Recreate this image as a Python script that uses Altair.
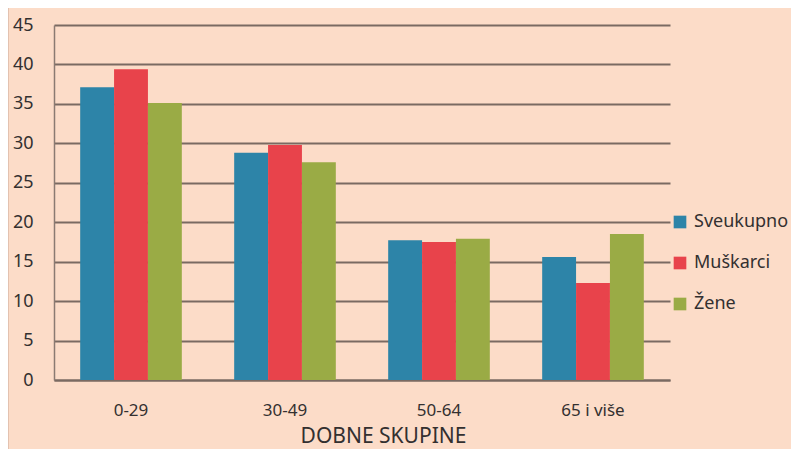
import altair as alt
import pandas as pd

groups = ["0-29", "30-49", "50-64", "65 i više"]
series = ["Sveukupno", "Muškarci", "Žene"]
sveukupno = [37.1, 28.8, 17.7, 15.6]
muskarci = [39.4, 29.8, 17.5, 12.3]
zene = [35.1, 27.6, 17.9, 18.5]
colors = ["#2d84a8", "#e8434b", "#9aab45"]

rows = []
for s, vals in zip(series, [sveukupno, muskarci, zene]):
    for g, v in zip(groups, vals):
        rows.append({"grupa": g, "serija": s, "vrijednost": v})
df = pd.DataFrame(rows)

FONT = "Noto Sans"
TXT = "#333030"

bars = alt.Chart(df).mark_bar().encode(
    x=alt.X("grupa:N", sort=groups,
            scale=alt.Scale(paddingInner=0.34, paddingOuter=0.17),
            axis=alt.Axis(title="DOBNE SKUPINE", labelAngle=0, ticks=False,
                          domainColor="#7a6a62", domainWidth=2,
                          labelFont=FONT, labelFontSize=17, labelColor=TXT,
                          labelPadding=22,
                          titleFont=FONT, titleFontSize=21, titleFontWeight="normal",
                          titleColor=TXT, titlePadding=7, titleX=329)),
    xOffset=alt.XOffset("serija:N", sort=series),
    y=alt.Y("vrijednost:Q", scale=alt.Scale(domain=[0, 45]),
            axis=alt.Axis(title=None, values=list(range(0, 50, 5)), ticks=False,
                          grid=True, gridColor="#7a6a62", gridWidth=2,
                          domainColor="#8a7a72", domainWidth=1.5,
                          labelFont=FONT, labelFontSize=18, labelColor=TXT,
                          labelPadding=21)),
    color=alt.Color("serija:N", sort=series,
                    scale=alt.Scale(domain=series, range=colors),
                    legend=alt.Legend(title=None, orient="none", legendX=617, legendY=188,
                                      symbolType="square", symbolSize=160,
                                      symbolStrokeWidth=0, rowPadding=23,
                                      labelFont=FONT, labelFontSize=18, labelColor=TXT,
                                      labelOffset=5)),
)

border = alt.Chart(pd.DataFrame({"a": [0]})).mark_rule(color="#c9a898", strokeWidth=1).encode(
    x=alt.value(-46), y=alt.value(-25), y2=alt.value(432)
)

chart = alt.layer(bars, border).properties(
    width=616, height=355,
    background="#fcdcc8",
    padding={"left": 46, "top": 17, "right": 121, "bottom": 69},
    autosize=alt.AutoSizeParams(type="none"),
).configure_view(stroke=None)

chart.save("out.html", embed_options={"renderer": "svg", "actions": False})
